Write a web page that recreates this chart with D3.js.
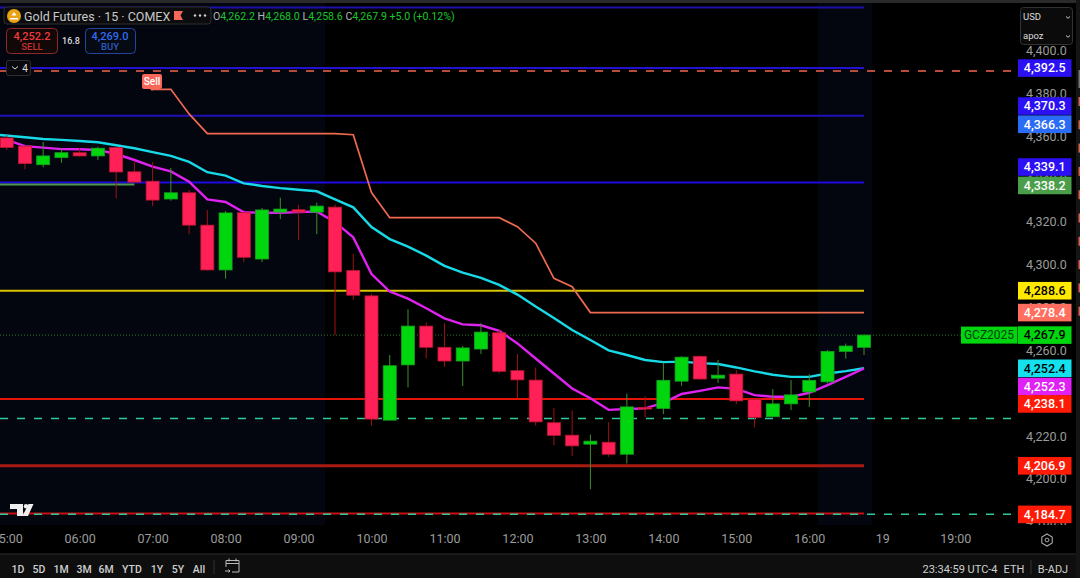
<!DOCTYPE html>
<html>
<head>
<meta charset="utf-8">
<script src="https://cdn.jsdelivr.net/npm/d3@7"></script>
<style>
  html, body { margin: 0; padding: 0; background: #000; overflow: hidden; }
  svg { display: block; }
  text { font-family: Roboto, "Open Sans", sans-serif; }
</style>
</head>
<body>
<svg id="chart" width="1080" height="578"></svg>
<script>
// 15 min bars, 05:00 to 16:45
const opens = [4359.9,4356.1,4347.4,4350.7,4353.0,4351.5,4355.4,4344.1,4339.7,4331.4,4334.3,4319.2,4298.3,4325.0,4303.4,4325.3,4326.4,4325.3,4327.6,4298.0,4286.2,4228.2,4254.0,4272.1,4262.2,4255.8,4261.4,4269.0,4251.3,4246.9,4227.0,4221.2,4217.0,4217.9,4212.3,4234.1,4233.7,4246.4,4258.0,4247.8,4249.7,4237.9,4229.8,4235.8,4241.4,4246.1,4260.3,4262.2];
const highs = [4361.1,4356.3,4358.0,4355.1,4355.1,4355.8,4355.8,4349.3,4348.7,4345.9,4335.6,4326.2,4325.8,4325.3,4327.2,4332.0,4328.7,4329.7,4329.0,4305.8,4287.1,4258.6,4279.9,4273.7,4273.4,4262.8,4273.4,4270.3,4259.1,4252.8,4234.0,4232.6,4221.5,4227.3,4240.7,4239.4,4255.0,4258.0,4258.3,4256.3,4251.6,4238.2,4242.7,4246.9,4249.6,4260.9,4263.9,4268.0];
const lows = [4354.3,4345.3,4346.2,4348.3,4351.2,4349.6,4331.7,4339.0,4328.1,4330.6,4315.0,4298.0,4294.2,4302.0,4302.0,4322.0,4312.2,4315.0,4267.9,4284.3,4225.7,4228.2,4243.5,4257.0,4253.1,4244.1,4259.1,4250.0,4238.4,4225.7,4216.5,4211.5,4196.0,4211.1,4208.0,4229.5,4231.0,4244.2,4247.0,4245.6,4235.7,4224.8,4229.8,4232.9,4234.4,4245.4,4256.9,4258.6];
const closes = [4355.4,4347.9,4351.5,4353.0,4351.5,4355.1,4344.0,4339.3,4330.9,4334.3,4319.2,4298.3,4324.9,4304.2,4326.3,4326.7,4325.3,4328.1,4297.4,4286.5,4228.7,4253.6,4272.1,4262.2,4255.8,4261.9,4269.3,4251.0,4247.0,4227.4,4221.1,4216.2,4218.4,4212.3,4234.4,4233.7,4246.8,4257.6,4247.4,4249.2,4237.2,4229.5,4235.8,4240.0,4246.8,4260.3,4262.8,4267.9];

const fastLine = [4359.0,4356.1,4355.4,4354.7,4354.6,4354.3,4352.4,4349.6,4346.5,4344.3,4339.5,4331.2,4330.0,4325.2,4325.0,4325.0,4325.3,4325.6,4320.6,4313.5,4296.4,4288.2,4284.9,4280.4,4275.7,4272.9,4272.5,4269.9,4264.0,4257.0,4250.0,4243.0,4238.4,4233.0,4233.4,4233.7,4236.3,4240.4,4241.9,4243.5,4242.8,4239.9,4239.1,4239.1,4241.0,4244.6,4248.4,4252.3];
const slowLine = [4361.3,4360.2,4359.4,4359.0,4358.5,4357.9,4356.5,4355.1,4353.3,4351.5,4348.7,4343.9,4342.3,4338.7,4337.5,4336.5,4335.7,4335.0,4331.2,4327.5,4318.3,4312.7,4309.2,4305.0,4300.2,4297.0,4294.6,4291.3,4286.8,4281.2,4275.9,4270.3,4265.6,4260.8,4258.6,4256.3,4255.3,4255.5,4254.8,4254.4,4252.8,4251.0,4249.4,4248.4,4248.4,4250.0,4251.1,4252.4];
// trailing stop, starts at the Sell flag (bar 8)
const trailBars = [8,9,10,11,18,19,20,21,27,28,29,30,31,32,47];
const trailLine = [4382.6,4382.6,4371.1,4361.9,4361.9,4361.4,4334.4,4322.7,4322.7,4318.5,4310.8,4294.4,4290.5,4278.4,4278.4];

const levelPrices = [4420.8,4392.5,4370.3,4339.1,4338.2,4288.6,4238.1,4206.9,4184.7];
const levelEndBars = [47,47,47,47,7,47,47,47,47];
const dashedPrices = [4391.1,4229.0,4184.3];

const labelPrices = [4392.5,4370.3,4366.3,4339.1,4338.2,4288.6,4278.4,4267.9,4252.4,4252.3,4238.1,4206.9,4184.7];
const priceTicks = [4400,4380,4360,4340,4320,4300,4280,4260,4240,4220,4200,4180];
const timeTickBars = [0,4,8,12,16,20,24,28,32,36,40,44,48,52];
const timeTickLabels = ["05:00","06:00","07:00","08:00","09:00","10:00","11:00","12:00","13:00","14:00","15:00","16:00","19","19:00"];
const rangeButtons = ["1D","5D","1M","3M","6M","YTD","1Y","5Y","All"];

let width = 1080, height = 578;
let paneBottom = 525;
let svg = d3.select("#chart");

let x = d3.scaleLinear().domain([0, 47]).range([6.7, 864]);
let y = d3.scaleLinear().domain([4200, 4400]).range([480.6, 52]);

svg.append("rect").attr("width", width).attr("height", height).attr("fill", "#000");
svg.append("defs").append("clipPath").attr("id", "pane")
    .append("rect").attr("width", width).attr("height", paneBottom);

// session shading
svg.selectAll("rect.session")
    .data([[0, 325], [818, 872]]).enter().append("rect")
    .attr("class", "session")
    .attr("x", d => d[0]).attr("width", d => d[1] - d[0])
    .attr("y", 0).attr("height", paneBottom)
    .attr("fill", "#03060f");

// price axis first so the price tags sit over it
let axisG = svg.append("g").attr("clip-path", "url(#pane)")
    .append("g").attr("transform", "translate(1020,-1)")
    .call(d3.axisRight(y).tickValues(priceTicks).tickFormat(d3.format(",.1f")).tickSize(0).tickPadding(6));
axisG.select(".domain").remove();
axisG.selectAll("text").attr("fill", "#9b9b9b").attr("font-size", 12.5).attr("dy", "0.27em")
    .style("font-family", "Roboto");

// horizontal levels
let levelColors = ["#1e10a8","#2212d0","#2010b8","#2008e0","#4f9a4f","#d9c400","#e8140a","#a81a12","#c81010"];
let levelWidths = [2,2,2,2,2,2,2,3,2];
svg.selectAll("line.level")
    .data(levelPrices).enter().append("line")
    .attr("class", "level")
    .attr("x1", 0).attr("x2", (d, i) => x(levelEndBars[i]))
    .attr("y1", d => y(d)).attr("y2", d => y(d))
    .attr("stroke", (d, i) => levelColors[i])
    .attr("stroke-width", (d, i) => levelWidths[i]);

let dashedColors = ["#f2664c","#2fc9a0","#2fc9a0"];
svg.selectAll("line.dashed")
    .data(dashedPrices).enter().append("line")
    .attr("class", "dashed")
    .attr("x1", 0).attr("x2", 1012)
    .attr("y1", d => y(d)).attr("y2", d => y(d))
    .attr("stroke", (d, i) => dashedColors[i])
    .attr("stroke-width", 1.6)
    .attr("stroke-dasharray", "8 9");

// last price dotted line
svg.append("line")
    .attr("x1", 0).attr("x2", 961)
    .attr("y1", y(closes[47])).attr("y2", y(closes[47]))
    .attr("stroke", "#2e7a2e").attr("stroke-width", 1).attr("stroke-dasharray", "1 2");

// indicator lines
let line = d3.line().x((d, i) => x(i)).y(d => y(d));
svg.append("path").attr("fill", "none").attr("stroke", "#17d9e8").attr("stroke-width", 2.4)
    .attr("d", d3.line().x((d, i) => i == 0 ? 0 : x(i)).y(d => y(d))(slowLine));
svg.append("path").attr("fill", "none").attr("stroke", "#e022f0").attr("stroke-width", 2.4)
    .attr("d", line(fastLine));
svg.append("path").attr("fill", "none").attr("stroke", "#ef6a50").attr("stroke-width", 1.7)
    .attr("d", d3.line().x((d, i) => x(trailBars[i])).y(d => y(d))(trailLine));

// candles
let bars = opens.map((o, i) => i);
let up = i => closes[i] >= opens[i];
let candles = svg.selectAll("g.candle").data(bars).enter().append("g").attr("class", "candle");
candles.append("line")
    .attr("x1", d => x(d)).attr("x2", d => x(d))
    .attr("y1", d => y(highs[d])).attr("y2", d => y(lows[d]))
    .attr("stroke", d => up(d) ? "#3f8f2c" : "#a01212")
    .attr("stroke-width", 1);
candles.append("rect")
    .attr("x", d => x(d) - 6.5).attr("width", 13)
    .attr("y", d => y(Math.max(opens[d], closes[d])))
    .attr("height", d => Math.max(1.5, Math.abs(y(opens[d]) - y(closes[d]))))
    .attr("fill", d => up(d) ? "#00d60e" : "#ff2058")
    .attr("stroke", d => up(d) ? "#17a01f" : "#b8182e")
    .attr("stroke-width", 0.8);

// sell flag
let flag = svg.append("g");
flag.append("path").attr("fill", "#f7685a")
    .attr("d", "M144,74h16a2,2 0 0 1 2,2v11a2,2 0 0 1 -2,2h-6l-2,2l-2,-2h-6a2,2 0 0 1 -2,-2v-11a2,2 0 0 1 2,-2z");
flag.append("text").attr("x", 152).attr("y", 85).attr("text-anchor", "middle")
    .attr("fill", "#fff").attr("font-size", 10).attr("font-weight", 500).text("Sell");

// tradingview mark
svg.append("path").attr("fill", "#eee")
    .attr("d", "M10,504h13v12h-6v-7h-7zM28.5,504h5l-5.5,12h-5.5z");
svg.append("circle").attr("cx", 26).attr("cy", 506.3).attr("r", 2.2).attr("fill", "#eee");

// price tags
let tagColors = {4392.5:"#2a10f2",4370.3:"#2a10f2",4366.3:"#2a6cf6",4339.1:"#2a10f2",4338.2:"#4a9e4a",4288.6:"#ffe900",4278.4:"#ff6e5e",4267.9:"#00d60e",4252.4:"#14e0ee",4252.3:"#e020f5",4238.1:"#ff1a05",4206.9:"#ff1a05",4184.7:"#ff1a05"};
let tagText = {4288.6:"#000",4267.9:"#000",4252.4:"#000"};
// tags that would overlap get pushed apart
let tagNudge = {4370.3:-9.6,4339.1:-15.5,4338.2:1,4252.3:18,4238.1:5,4184.7:1};
let tags = svg.selectAll("g.tag").data(labelPrices).enter().append("g").attr("class", "tag")
    .attr("transform", d => "translate(1018," + (y(d) + (tagNudge[d] || 0)) + ")");
tags.append("rect").attr("x", 0).attr("y", -8.8).attr("width", 53.5).attr("height", 17.6)
    .attr("fill", d => tagColors[d]);
tags.append("text").attr("x", 26.7).attr("y", 4.4).attr("text-anchor", "middle")
    .attr("fill", d => tagText[d] || "#fff").attr("font-size", 12.5).attr("font-weight", 500)
    .text(d => d3.format(",.1f")(d));

// symbol tag next to the last price
let symY = y(closes[47]);
svg.append("rect").attr("x", 961).attr("y", symY - 8.5).attr("width", 56.5).attr("height", 17).attr("fill", "#00d60e");
svg.append("text").attr("x", 989).attr("y", symY + 4.4).attr("text-anchor", "middle")
    .attr("fill", "#04400f").attr("font-size", 12).text("GCZ2025");

// time axis
let timeAxis = svg.append("g").attr("transform", "translate(0,531.5)")
    .call(d3.axisBottom(x).tickValues(timeTickBars).tickFormat((d, i) => timeTickLabels[i]).tickSize(0).tickPadding(3));
timeAxis.select(".domain").remove();
timeAxis.selectAll("text").attr("fill", "#9b9b9b").attr("font-size", 12.5).style("font-family", "Roboto");

// gear
svg.append("path").attr("fill", "none").attr("stroke", "#aaa").attr("stroke-width", 1.1)
    .attr("d", "M1047,534l5.2,3v6l-5.2,3l-5.2,-3v-6z");
svg.append("circle").attr("cx", 1047).attr("cy", 540).attr("r", 1.9).attr("fill", "none").attr("stroke", "#aaa");

// bottom toolbar
svg.append("rect").attr("x", 0).attr("y", 554).attr("width", width).attr("height", 24).attr("fill", "#0e0e0e");
svg.append("line").attr("x1", 0).attr("x2", width).attr("y1", 554).attr("y2", 554).attr("stroke", "#2c2c2c");
let btnX = [18,39,61,84,106,132,157,178,199];
svg.selectAll("text.range").data(rangeButtons).enter().append("text")
    .attr("class", "range").attr("x", (d, i) => btnX[i]).attr("y", 573)
    .attr("text-anchor", "middle").attr("fill", "#cfcfcf").attr("font-size", 10.5).attr("font-weight", 500).text(d => d);
[214, 1031].forEach(v => svg.append("line").attr("x1", v).attr("x2", v).attr("y1", 560).attr("y2", 574).attr("stroke", "#333"));
svg.append("path").attr("fill", "none").attr("stroke", "#bbb").attr("stroke-width", 1)
    .attr("d", "M226,567v-6.5h13v11.5h-7M226,563.5h13M229,558.5v3M236,558.5v3M225,571h5m-1.5,-1.5l1.5,1.5l-1.5,1.5");
svg.append("text").attr("x", 960).attr("y", 573).attr("text-anchor", "middle").attr("fill", "#cfcfcf").attr("font-size", 11).text("23:34:59 UTC-4");
svg.append("text").attr("x", 1014).attr("y", 573).attr("text-anchor", "middle").attr("fill", "#cfcfcf").attr("font-size", 11).text("ETH");
svg.append("text").attr("x", 1053).attr("y", 573).attr("text-anchor", "middle").attr("fill", "#cfcfcf").attr("font-size", 11).text("B-ADJ");

// top strip and legend
svg.append("rect").attr("width", width).attr("height", 3).attr("fill", "#2a2a2a");
svg.append("rect").attr("x", 4).attr("y", 7).attr("width", 207).attr("height", 17).attr("rx", 3)
    .attr("fill", "#0c0c0e").attr("stroke", "#2e2e2e");
svg.append("circle").attr("cx", 14).attr("cy", 16).attr("r", 7).attr("fill", "#e8a214");
svg.append("path").attr("fill", "#fff").attr("d", "M10,18h8v1.6h-8zM11.5,15.5l2.5,-3.5l2.5,3.5z");
svg.append("text").attr("x", 24).attr("y", 21).attr("fill", "#c8c8c8").attr("font-size", 12.5).text("Gold Futures · 15 · COMEX");
svg.append("path").attr("fill", "#f7685a").attr("d", "M174,11h9l-2.5,4.5l2.5,4.5h-9z");
[195, 200, 205].forEach(v => svg.append("circle").attr("cx", v).attr("cy", 15.5).attr("r", 1.2).attr("fill", "#ccc"));

let ohlc = svg.append("text").attr("x", 213).attr("y", 20).attr("font-size", 10.6);
[["O","4,262.2 "],["H","4,268.0 "],["L","4,258.6 "],["C","4,267.9 +5.0 (+0.12%)"]].forEach(p => {
    ohlc.append("tspan").attr("fill", "#b5b5b5").text(p[0]);
    ohlc.append("tspan").attr("fill", "#18c828").text(p[1]);
});

// sell / buy buttons
svg.append("rect").attr("x", 6.5).attr("y", 28.5).attr("width", 51).attr("height", 25).attr("rx", 4).attr("fill", "#120808").attr("stroke", "#8c2a2a");
svg.append("text").attr("x", 32).attr("y", 40).attr("text-anchor", "middle").attr("fill", "#f03a3a").attr("font-size", 11).attr("font-weight", 500).text("4,252.2");
svg.append("text").attr("x", 32).attr("y", 50).attr("text-anchor", "middle").attr("fill", "#c43030").attr("font-size", 9.5).attr("font-weight", 500).text("SELL");
svg.append("text").attr("x", 71).attr("y", 44).attr("text-anchor", "middle").attr("fill", "#ddd").attr("font-size", 9).attr("font-weight", 500).text("16.8");
svg.append("rect").attr("x", 85.5).attr("y", 28.5).attr("width", 50).attr("height", 25).attr("rx", 4).attr("fill", "#060a14").attr("stroke", "#23469c");
svg.append("text").attr("x", 110).attr("y", 40).attr("text-anchor", "middle").attr("fill", "#2f6cf0").attr("font-size", 11).attr("font-weight", 500).text("4,269.0");
svg.append("text").attr("x", 110).attr("y", 50).attr("text-anchor", "middle").attr("fill", "#2a5ac0").attr("font-size", 9.5).attr("font-weight", 500).text("BUY");

// collapsed indicators chip
svg.append("rect").attr("x", 6.5).attr("y", 60.5).attr("width", 24).attr("height", 15).attr("rx", 2).attr("fill", "#0a0a0e").attr("stroke", "#2e2e2e");
svg.append("path").attr("fill", "none").attr("stroke", "#ddd").attr("d", "M12,66.5l3,2.5l3,-2.5");
svg.append("text").attr("x", 25).attr("y", 72).attr("text-anchor", "middle").attr("fill", "#ddd").attr("font-size", 10).text("4");

// currency box
svg.append("rect").attr("x", 1020.5).attr("y", 7.5).attr("width", 52).attr("height", 37).attr("rx", 3).attr("fill", "#0b0b0b").attr("stroke", "#333");
svg.append("text").attr("x", 1023).attr("y", 20).attr("fill", "#ddd").attr("font-size", 9.5).text("USD");
svg.append("text").attr("x", 1023).attr("y", 39).attr("fill", "#ddd").attr("font-size", 9.5).text("apoz");
[16.5, 35.5].forEach(v => svg.append("path").attr("fill", "none").attr("stroke", "#ccc").attr("d", "M1066,"+v+"l2,1.8l2,-1.8"));

// right edge strip with the little order ruler
svg.append("rect").attr("x", 1076).attr("y", 0).attr("width", 4).attr("height", height).attr("fill", "#141414");
svg.append("rect").attr("x", 1078.5).attr("y", 70).attr("width", 1.5).attr("height", 18).attr("fill", "#777");
svg.selectAll("rect.rulermark").data(d3.range(0, 10)).enter().append("rect")
    .attr("class", "rulermark")
    .attr("x", 1078.5).attr("width", 1.5)
    .attr("y", d => 97 + d * 23.3).attr("height", 9)
    .attr("fill", "#d8604c");
</script>
</body>
</html>
